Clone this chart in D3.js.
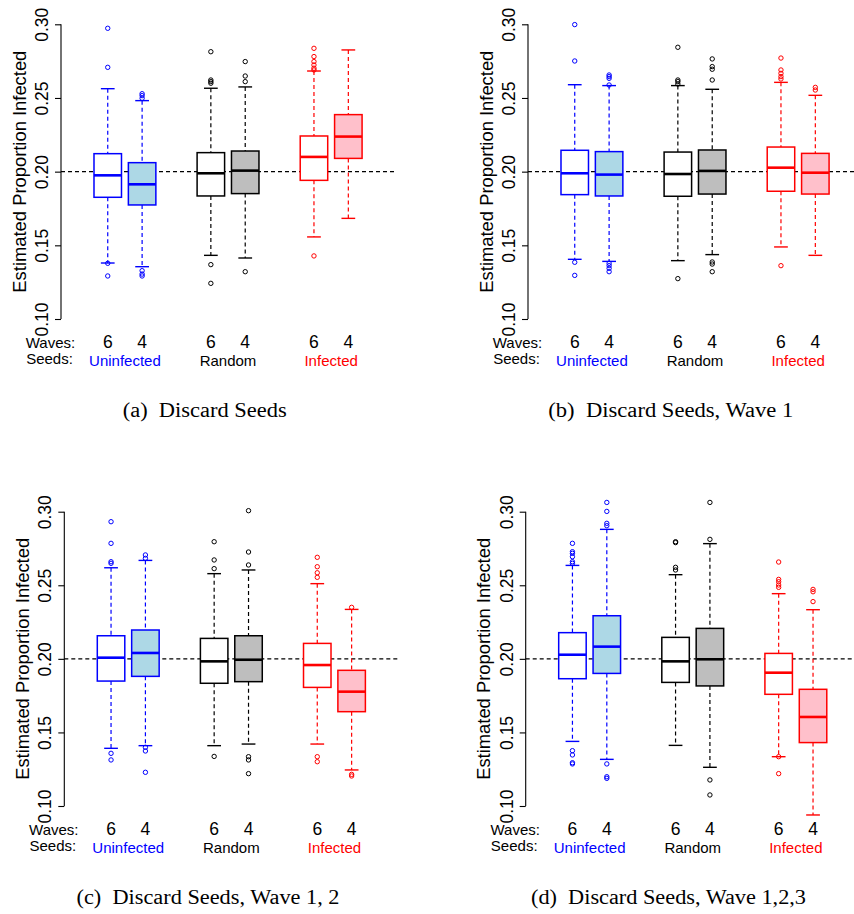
<!DOCTYPE html>
<html>
<head>
<meta charset="utf-8">
<style>
  body { margin: 0; background: #fff; }
  text { font-family: "Liberation Sans", Arial, sans-serif; }
  .cap { font-family: "Liberation Serif", "Times New Roman", serif; }
</style>
</head>
<body>
<script src="https://cdnjs.cloudflare.com/ajax/libs/d3/7.8.5/d3.min.js"></script>
<svg id="svg-canvas" width="854" height="914"></svg>
<script>

// boxes, left to right: seeds group x waves
const seedGroups = ["Uninfected", "Random", "Infected"];
const waveLabels = ["6", "4"];
const yTicks = [0.10, 0.15, 0.20, 0.25, 0.30];
const refLine = 0.20;

const captions = [
  "(a)  Discard Seeds",
  "(b)  Discard Seeds, Wave 1",
  "(c)  Discard Seeds, Wave 1, 2",
  "(d)  Discard Seeds, Wave 1,2,3"
];

// [lower whisker, Q1, median, Q3, upper whisker]
const statsA = [
  [0.1380, 0.1826, 0.1975, 0.2122, 0.2563],
  [0.1355, 0.1774, 0.1914, 0.2061, 0.2482],
  [0.1432, 0.1835, 0.1989, 0.2129, 0.2566],
  [0.1414, 0.1851, 0.2007, 0.2140, 0.2575],
  [0.1557, 0.1941, 0.2100, 0.2242, 0.2683],
  [0.1683, 0.2090, 0.2238, 0.2387, 0.2826]
];
const outA = [
  [0.2973, 0.2708, 0.1378, 0.1292],
  [0.2529, 0.2516, 0.2498, 0.1328, 0.1305, 0.1292],
  [0.2814, 0.2622, 0.2611, 0.2600, 0.1369, 0.1242],
  [0.2747, 0.2649, 0.2611, 0.1321],
  [0.2837, 0.2781, 0.2747, 0.2724, 0.2702, 0.2690, 0.1428],
  []
];

const statsB = [
  [0.1405, 0.1844, 0.1989, 0.2145, 0.2590],
  [0.1391, 0.1835, 0.1980, 0.2136, 0.2584],
  [0.1396, 0.1833, 0.1984, 0.2133, 0.2584],
  [0.1437, 0.1848, 0.2005, 0.2147, 0.2559],
  [0.1489, 0.1867, 0.2027, 0.2167, 0.2606],
  [0.1432, 0.1848, 0.1993, 0.2124, 0.2518]
];
const outB = [
  [0.2998, 0.2751, 0.1385, 0.1296],
  [0.2656, 0.2645, 0.2633, 0.2588, 0.1378, 0.1362, 0.1344, 0.1321],
  [0.2844, 0.2622, 0.2611, 0.2595, 0.1274],
  [0.2765, 0.2713, 0.2695, 0.2622, 0.1387, 0.1373, 0.1321],
  [0.2771, 0.2690, 0.2667, 0.2645, 0.2629, 0.1362],
  [0.2572, 0.2554]
];

const statsC = [
  [0.1392, 0.1849, 0.2008, 0.2157, 0.2619],
  [0.1410, 0.1881, 0.2040, 0.2196, 0.2669],
  [0.1410, 0.1834, 0.1983, 0.2139, 0.2579],
  [0.1421, 0.1845, 0.1994, 0.2157, 0.2604],
  [0.1421, 0.1806, 0.1958, 0.2105, 0.2511],
  [0.1245, 0.1641, 0.1777, 0.1922, 0.2336]
];
const outC = [
  [0.2932, 0.2785, 0.2660, 0.2649, 0.1358, 0.1313],
  [0.2706, 0.2683, 0.1399, 0.1374, 0.1229],
  [0.2796, 0.2672, 0.2613, 0.1337],
  [0.3007, 0.2726, 0.2638, 0.1335, 0.1313, 0.1220],
  [0.2690, 0.2626, 0.2585, 0.2554, 0.1335, 0.1301],
  [0.2350, 0.1215, 0.1204]
];

const statsD = [
  [0.1439, 0.1865, 0.2028, 0.2178, 0.2635],
  [0.1317, 0.1901, 0.2083, 0.2293, 0.2880],
  [0.1412, 0.1840, 0.1983, 0.2146, 0.2572],
  [0.1263, 0.1816, 0.1997, 0.2207, 0.2783],
  [0.1335, 0.1759, 0.1906, 0.2037, 0.2443],
  [0.0939, 0.1431, 0.1605, 0.1793, 0.2334]
];
const outD = [
  [0.2785, 0.2728, 0.2717, 0.2694, 0.2660, 0.2649, 0.1376, 0.1347, 0.1294, 0.1286],
  [0.3063, 0.3002, 0.2921, 0.2905, 0.1286, 0.1199, 0.1188],
  [0.2796, 0.2790, 0.2622, 0.2604],
  [0.3063, 0.2812, 0.1177, 0.1075],
  [0.2658, 0.2540, 0.2524, 0.2502, 0.2486, 0.1335, 0.1220],
  [0.2472, 0.2456, 0.2389]
];

// styling
const groupColor = ["#0000ff", "#000000", "#ff0000"];
const fill4 = ["#add8e6", "#bebebe", "#ffc0cb"];

// panel placement (axis line x, pixel y of 0.30 and 0.10, caption)
const panels = [
  {stats: statsA, out: outA, ax: 61,    y30: 24.3,  y10: 319, cx: 204.7, cy: 416.7, cw: 164},
  {stats: statsB, out: outB, ax: 528,   y30: 24.3,  y10: 319, cx: 670.8, cy: 416.7, cw: 245},
  {stats: statsC, out: outC, ax: 64.3,  y30: 511.7, y10: 806, cx: 208,   cy: 904.1, cw: 263},
  {stats: statsD, out: outD, ax: 525.7, y30: 511.7, y10: 806, cx: 668.5, cy: 904.1, cw: 275}
];

const svg = d3.select('#svg-canvas');
svg.append('rect').attr('width', 854).attr('height', 914).attr('fill', '#fff');

const boxW = 0.8;

panels.forEach((p, pi) => {
  const x = d3.scaleLinear().domain([-0.36, 9.36]).range([p.ax, p.ax + 9.72 * 34.37]);
  const y = d3.scaleLinear().domain([0.10, 0.30]).range([p.y10, p.y30]);
  const g = svg.append('g');

  // y axis
  const axis = g.append('g')
    .attr('transform', `translate(${p.ax},0)`)
    .call(d3.axisLeft(y).tickValues(yTicks).tickSize(6).tickFormat(d3.format('.2f')));
  axis.select('.domain').attr('stroke', '#000').attr('stroke-width', 1.1)
    .attr('d', `M0,${y(0.10)}V${y(0.30)}`);
  axis.selectAll('.tick line').attr('stroke', '#000').attr('stroke-width', 1.1);
  axis.selectAll('.tick text')
    .attr('font-size', 17.5)
    .attr('font-family', '"Liberation Sans", Arial, sans-serif')
    .attr('fill', '#000')
    .attr('text-anchor', 'middle')
    .attr('dy', null)
    .attr('x', null)
    .attr('transform', 'translate(-13,0) rotate(-90)')
    .attr('y', 0);

  g.append('text')
    .attr('transform', `translate(${p.ax - 35.5},${y(0.2)}) rotate(-90)`)
    .attr('text-anchor', 'middle')
    .attr('font-size', 19)
    .attr('textLength', 242)
    .attr('lengthAdjust', 'spacingAndGlyphs')
    .text('Estimated Proportion Infected');

  // reference line
  g.append('line')
    .attr('x1', x(-0.36)).attr('x2', Math.min(854, x(9.36)))
    .attr('y1', y(refLine)).attr('y2', y(refLine))
    .attr('stroke', '#000').attr('stroke-width', 1.1).attr('stroke-dasharray', '4,3');

  p.stats.forEach((s, i) => {
    const gi = Math.floor(i / 2);
    const pos = gi * 3 + (i % 2) + 1;
    const col = groupColor[gi];
    const fill = i % 2 ? fill4[gi] : '#fff';
    const bx = x(pos);
    const hw = (x(boxW / 2) - x(0));
    const b = g.append('g');

    // whiskers
    b.append('line').attr('x1', bx).attr('x2', bx).attr('y1', y(s[4])).attr('y2', y(s[3]))
      .attr('stroke', col).attr('stroke-width', 1.2).attr('stroke-dasharray', '4,3');
    b.append('line').attr('x1', bx).attr('x2', bx).attr('y1', y(s[1])).attr('y2', y(s[0]))
      .attr('stroke', col).attr('stroke-width', 1.2).attr('stroke-dasharray', '4,3');
    [s[0], s[4]].forEach(v => {
      b.append('line').attr('x1', bx - hw / 2).attr('x2', bx + hw / 2).attr('y1', y(v)).attr('y2', y(v))
        .attr('stroke', col).attr('stroke-width', 1.4);
    });
    b.append('rect')
      .attr('x', bx - hw).attr('width', 2 * hw)
      .attr('y', y(s[3])).attr('height', y(s[1]) - y(s[3]))
      .attr('fill', fill).attr('stroke', col).attr('stroke-width', 1.5);
    b.append('line').attr('x1', bx - hw).attr('x2', bx + hw).attr('y1', y(s[2])).attr('y2', y(s[2]))
      .attr('stroke', col).attr('stroke-width', 2.6);

    b.selectAll('circle').data(p.out[i]).enter().append('circle')
      .attr('cx', bx).attr('cy', d => y(d)).attr('r', 2.2)
      .attr('fill', 'none').attr('stroke', col).attr('stroke-width', 1);

    g.append('text').attr('x', bx).attr('y', p.y10 + 29)
      .attr('text-anchor', 'middle').attr('font-size', 17.5)
      .text(waveLabels[i % 2]);
  });

  seedGroups.forEach((name, gi) => {
    g.append('text').attr('x', x(gi * 3 + 1.5)).attr('y', p.y10 + 46.5)
      .attr('text-anchor', 'middle').attr('font-size', 15)
      .attr('fill', groupColor[gi])
      .text(name);
  });

  g.append('text').attr('x', p.ax - 10.5).attr('y', p.y10 + 28.7)
    .attr('text-anchor', 'middle').attr('font-size', 15).text('Waves:');
  g.append('text').attr('x', p.ax - 11.5).attr('y', p.y10 + 45)
    .attr('text-anchor', 'middle').attr('font-size', 15).text('Seeds:');

  svg.append('text').attr('class', 'cap')
    .attr('x', p.cx).attr('y', p.cy)
    .attr('text-anchor', 'middle').attr('font-size', 20)
    .attr('textLength', p.cw).attr('lengthAdjust', 'spacingAndGlyphs')
    .attr('xml:space', 'preserve')
    .style('white-space', 'pre')
    .text(captions[pi]);
});

</script>
</body>
</html>
